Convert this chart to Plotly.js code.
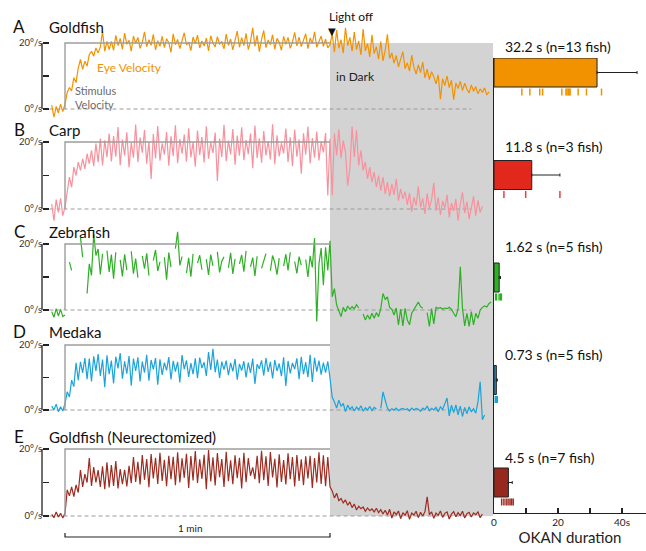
<!DOCTYPE html>
<html><head><meta charset="utf-8">
<script src="https://cdn.plot.ly/plotly-3.0.1.min.js"></script>
<style>html,body{margin:0;padding:0;background:#fff}#chart{width:646px;height:551px}</style>
</head><body><div id="chart"></div>
<script>
// ---------------- DATA ----------------
// eye velocity traces (deg/s), sampled every tStep seconds starting at tStart (stimulus onset = 0 s, light off = 60 s)
const tStart = -3, tStep = 0.5;

const goldfishEye = [
 1.2,-2.5,0.8,-1.2,1.5,-0.8,
 1.5,5,6.5,5.5,9.5,8,12.5,15,12,14.5,13,16.5,17.5,16,18.5,17,18.8,23.5,17.5,20.5,18,
 20.5,17.8,22.3,19.2,21.4,18.1,23.0,19.6,20.8,17.5,
 22.1,19.9,21.7,18.4,20.2,23.4,18.9,21.0,19.3,22.6,
 17.9,20.7,19.0,22.0,18.6,21.3,20.1,17.2,22.8,19.5,
 21.1,18.3,20.9,23.1,19.4,20.3,17.7,21.8,19.8,22.4,
 18.5,20.6,19.1,21.5,17.6,22.2,20.0,18.8,21.9,19.7,
 20.4,18.2,22.7,19.3,21.2,17.9,20.8,23.6,18.7,21.6,
 19.2,22.9,18.0,20.5,24.6,19.0,22.3,17.4,21.0,23.8,
 18.6,20.9,19.5,22.5,18.1,21.4,20.2,17.8,22.0,19.6,
 21.7,18.4,20.3,23.2,19.1,21.8,18.9,20.6,22.8,18.3,
 21.5,19.8,23.4,18.7,20.4,22.1,19.0,21.2,18.5,
 19.5,22.8,17.2,23.9,18.4,21.0,16.9,24.6,19.2,21.7,
 17.5,23.3,18.0,20.6,16.4,24.2,17.6,19.8,15.8,22.5,
 16.8,18.9,15.1,20.4,14.6,17.8,22.6,15.3,17.0,13.9,
 16.2,12.8,14.9,17.4,12.2,14.0,11.5,16.3,12.7,10.6,
 13.4,11.0,14.2,9.4,12.1,8.9,11.3,9.8,7.6,10.4,
 3.0,9.2,7.1,10.0,6.5,8.7,2.8,7.9,6.2,8.4,
 5.6,7.8,6.0,4.9,7.3,5.4,6.8,4.6,6.1,5.0,
 6.4,4.3,5.2
];

const carpEye = [
 1.5,-3.5,2.8,-1.0,3.2,-2.0,
 0.5,4.5,9.5,6.5,12.5,10.0,14.0,11.5,15.0,12.0,16.5,13.5,17.5,12.8,19.5,14.0,21.0,13.0,20.5,15.5,22.5,
 14.2,21.8,15.6,24.5,13.1,20.7,16.0,22.9,12.4,19.8,
 15.3,25.2,14.0,21.3,16.8,23.6,13.5,20.2,9.0,22.4,
 15.1,24.8,14.4,19.6,16.2,23.0,12.9,21.7,15.8,25.0,
 13.7,20.9,16.5,22.2,14.1,24.1,15.4,20.0,12.6,23.4,
 16.1,21.5,13.9,24.7,15.0,19.9,16.7,22.8,8.4,21.0,
 15.5,25.1,14.3,20.4,16.3,23.9,13.2,21.9,15.9,24.4,
 14.6,20.6,16.4,22.5,12.2,24.9,15.2,21.1,13.8,23.3,
 16.0,20.3,14.8,25.3,13.4,22.0,15.7,19.7,16.6,24.0,
 14.0,21.4,12.8,23.7,15.6,20.8,10.5,22.6,16.2,24.6,
 13.6,21.2,15.3,23.1,14.5,20.1,16.9,22.7,4.0,
 21.0,4.0,22.5,16.0,23.8,15.2,20.4,17.0,7.0,12.0,
 24.6,15.5,23.5,13.0,17.5,11.5,14.0,9.0,12.5,8.0,
 11.0,6.5,10.0,5.5,9.5,4.5,8.0,3.8,7.5,4.2,
 9.0,2.5,6.0,3.0,5.2,1.2,4.8,-0.8,3.5,1.0,
 6.8,0.5,3.2,-1.5,4.6,0.2,2.8,7.8,-0.5,3.5,
 -1.8,2.4,0.3,4.2,-2.5,1.8,-0.6,3.0,-3.5,1.5,
 5.0,-1.2,2.2,-3.0,1.0,3.8,-2.0,2.6,-1.0,0.8
];

const zebrafishEye = [
 -0.5,-2.2,0.4,-1.8,0.2,-2.0,
 -1.5,null,14.5,12.0,null,7.5,null,22.0,16.0,null,5.0,14.0,10.5,23.0,16.5,18.5,10.8,17.0,null,18.0,11.5,
 16.8,9.5,17.5,null,15.2,10.2,16.9,12.1,null,17.8,
 11.0,15.6,9.8,null,16.4,12.5,17.2,10.4,null,15.0,
 18.2,11.8,14.6,null,16.0,9.2,17.4,13.0,null,18.6,
 23.7,13.5,16.2,null,11.2,15.8,10.1,17.0,null,14.2,
 16.6,12.2,null,15.4,10.6,16.8,13.4,null,17.6,11.4,
 14.8,16.1,null,12.8,17.3,10.9,15.5,null,14.0,16.7,
 11.6,17.9,null,13.1,15.9,10.3,16.3,null,12.6,15.2,
 17.1,null,11.9,16.5,14.4,10.7,15.7,null,13.3,16.9,
 12.0,17.5,null,14.7,11.1,16.2,13.6,null,15.3,10.0,
 16.4,12.9,21.8,-3.5,14.0,18.8,7.5,19.0,12.0,
 21.0,4.0,6.5,1.5,0.0,-2.0,0.8,-0.5,1.2,0.2,
 1.0,0.4,1.6,0.6,null,-1.2,-3.0,-1.5,-2.8,-1.0,
 -2.5,-0.8,-2.0,0.5,5.0,3.2,4.0,0.8,0.2,-1.5,
 0.6,-4.5,0.3,-4.8,0.5,-3.0,-4.5,-1.0,0.2,1.5,
 2.4,1.0,0.5,null,-0.8,-5.0,0.4,-4.2,0.8,0.5,
 0.7,0.3,0.6,0.4,0.8,0.2,-1.0,-2.0,0.3,13.1,
 0.5,-4.8,-1.0,-5.0,-0.5,-4.5,-1.0,-2.5,0.0,0.8,
 1.2,0.9,2.0,2.4
];

const medakaEye = [
 1.2,0.0,1.8,-0.5,1.0,-0.3,
 2.0,5.6,4.0,9.2,7.2,14.5,9.2,14.8,11.4,16.0,9.5,15.8,8.8,16.5,12.0,17.2,10.5,15.5,7.0,16.8,11.0,
 15.2,8.2,16.4,12.8,17.5,9.6,15.0,11.2,16.6,7.5,
 15.8,12.0,16.2,8.8,14.9,11.5,17.0,9.0,15.4,12.5,
 16.0,7.8,15.6,10.8,14.6,12.2,16.3,9.4,15.1,11.8,
 14.8,8.5,16.9,12.6,15.3,10.2,14.4,11.0,15.9,9.8,
 16.1,12.9,14.7,10.5,17.8,12.3,18.8,11.6,15.5,9.9,
 14.9,12.4,15.2,10.7,14.5,11.9,15.7,9.3,14.2,12.1,
 15.0,10.0,14.6,11.4,15.8,8.0,14.1,12.7,15.3,10.6,
 16.0,11.7,14.8,9.7,15.4,12.0,14.3,10.4,16.2,7.4,
 15.1,11.3,14.5,12.6,15.9,9.5,16.4,11.0,14.7,10.1,
 17.0,8.6,16.1,11.8,15.2,10.9,14.6,11.5,15.0,
 9.8,4.0,2.5,0.6,3.0,1.2,2.0,-0.5,1.5,0.2,
 1.0,-0.3,0.9,0.1,1.3,-0.4,0.7,0.0,1.1,-0.2,
 0.8,0.3,null,0.5,5.6,3.0,0.6,-0.3,0.4,0.0,
 0.6,-0.2,0.3,0.5,0.1,0.4,-0.3,0.6,0.0,0.5,
 0.2,-0.4,0.6,0.1,1.2,-0.2,0.5,0.0,0.8,-0.5,
 1.0,0.2,2.2,3.7,-1.8,1.5,-0.8,1.6,-1.5,1.2,
 -2.0,0.8,-1.2,1.0,-0.6,0.4,-1.0,2.5,8.7,-3.0,
 -1.5
];

const neurectEye = [
 0.5,-0.5,1.2,-0.3,0.8,-0.6,
 0.8,7.8,6.0,8.7,5.8,9.3,7.0,13.7,8.7,12.5,10.0,17.3,9.0,14.6,10.0,13.7,8.7,14.8,8.0,16.0,8.5,
 15.2,9.0,16.4,8.2,14.0,9.5,13.8,8.8,15.0,9.8,
 17.6,10.2,16.2,9.4,18.2,10.8,17.0,8.6,18.5,11.2,
 17.4,9.6,18.9,10.5,16.8,8.9,18.0,11.0,17.7,9.2,
 19.0,10.0,17.2,11.4,18.6,8.4,17.9,10.6,19.4,9.9,
 16.9,11.1,18.3,8.0,19.7,10.3,17.5,9.1,18.8,11.6,
 17.0,8.7,19.2,10.4,16.6,9.5,18.1,11.3,17.4,8.2,
 18.9,10.1,17.3,12.0,14.5,11.0,18.0,9.8,19.5,10.7,
 17.8,9.0,19.1,11.5,17.1,8.5,18.4,10.2,16.7,9.4,
 18.7,11.0,17.6,8.8,18.2,10.5,16.9,9.2,17.8,11.2,
 18.0,8.4,17.3,10.0,19.0,9.6,18.1,8.9,17.6,
 8.7,7.5,5.4,6.8,4.6,5.2,3.9,4.8,3.2,4.2,
 2.5,3.6,1.8,2.9,2.2,2.7,1.4,2.4,1.6,2.1,
 1.2,2.3,1.0,1.9,0.6,1.7,0.3,2.0,-0.6,1.2,
 0.4,1.5,-0.8,1.0,0.2,1.6,-1.0,0.9,0.3,1.4,
 -0.5,1.1,0.0,1.3,5.7,0.4,1.2,-0.7,0.9,0.2,
 1.5,-0.4,0.8,1.2,-0.9,0.6,1.3,-0.2,1.0,0.1,
 1.4,-0.6,0.7,1.1,-0.3,0.9,0.4,1.2,-0.5,0.6
];

// stimulus velocity and zero reference
const stimTime = [0, 0, 60];
const stimVel  = [0, 20, 20];
const zeroTime = [-3.5, 92];
const zeroVel  = [0, 0];
const lightOffTime = 60;

// OKAN duration summary
const species   = ['Goldfish', 'Carp', 'Zebrafish', 'Medaka', 'Goldfish (Neurectomized)'];
const panelTags = ['A', 'B', 'C', 'D', 'E'];
const okanMean  = [32.2, 11.8, 1.62, 0.73, 4.5];
const okanErr   = [12.5, 8.8, 0.4, 0.3, 1.2];
const fishN     = [13, 3, 5, 5, 7];
const fishGoldfish = [8.7, 11.2, 14.3, 15.2, 21.2, 22.5, 22.8, 23.2, 23.5, 23.8, 26.3, 28.9, 33.6];
const fishCarp     = [3.1, 9.9, 20.6];
const fishZebra    = [0.5, 0.8, 1.6, 2.1, 2.3];
const fishMedaka   = [0.4, 0.6, 0.7, 0.9, 1.0];
const fishNeurect  = [2.4, 3.1, 3.8, 4.4, 5.0, 5.5, 6.0];
const okanTicks = [0, 10, 20, 30, 40];
const okanTickText = ['0', '', '20', '', '40s'];

// ---------------- LAYOUT / STYLE ----------------
const W = 646, H = 551;
const FONT = 'Lato, "Liberation Sans", Arial, sans-serif';
const tx = p => (p - 65) * 60 / 265;     // pixel -> seconds on time axis
const py = p => 1 - p / H;               // pixel -> paper y
const panels = [{p0:109,p20:43},{p0:209,p20:142},{p0:310,p20:244},{p0:410,p20:345},{p0:516,p20:449}];
const eyeSeries = [goldfishEye, carpEye, zebrafishEye, medakaEye, neurectEye];
const eyeColors = ['#F39200', '#F9919C', '#2DB024', '#1BA3DB', '#9E2B20'];
const barColors = ['#F39200', '#E0281C', '#2DB024', '#1B8FC8', '#96281E'];
const fishColors = ['#F39200', '#E8403A', '#2DB024', '#1BA3DB', '#A0281E'];
const fishSets = [fishGoldfish, fishCarp, fishZebra, fishMedaka, fishNeurect];

const traces = [];
const layout = {
  width: W, height: H, margin: {l:0, r:0, t:0, b:0},
  paper_bgcolor: '#fff', plot_bgcolor: 'rgba(0,0,0,0)',
  showlegend: false, font: {family: FONT, color: '#222'},
  xaxis: {domain:[0,1], range:[tx(0), tx(W)], visible:false, fixedrange:true},
  shapes: [], annotations: []
};

panels.forEach((pn, k) => {
  const axName = k === 0 ? 'yaxis' : 'yaxis' + (k + 1);
  const ref = k === 0 ? 'y' : 'y' + (k + 1);
  const u = 20 / (pn.p0 - pn.p20);
  const ax = {
    domain:[0,1], range:[-(H - pn.p0) * u, 20 + pn.p20 * u],
    anchor:'free', position: 42 / W,
    showgrid:false, zeroline:false, showline:false,
    ticks:'inside', ticklen:6, tickwidth:1.2, tickcolor:'#222',
    tickvals:[0,10,20], ticktext:['0°/s','','20°/s'],
    tickfont:{size:9.5, color:'#333', family:FONT}, fixedrange:true
  };
  if (k > 0) ax.overlaying = 'y';
  layout[axName] = ax;

  traces.push({x:zeroTime, y:zeroVel, xaxis:'x', yaxis:ref, mode:'lines',
    line:{color:'#9a9a9a', width:1, dash:'4px,3px'}, hoverinfo:'skip'});
  traces.push({y:eyeSeries[k], x0:tStart, dx:tStep, xaxis:'x', yaxis:ref, mode:'lines',
    line:{color:eyeColors[k], width:1.2}, connectgaps:false, hoverinfo:'skip'});
  traces.push({x:stimTime, y:stimVel, xaxis:'x', yaxis:ref, mode:'lines',
    line:{color:'#9d9d9d', width:1.4}, hoverinfo:'skip'});

  // y bracket line
  layout.shapes.push({type:'line', xref:'paper', yref:ref, x0:42/W, x1:42/W, y0:0, y1:20,
    line:{color:'#222', width:1.3}});
});

// dark period shading
layout.shapes.push({type:'rect', xref:'x', yref:'paper', x0:lightOffTime, x1:tx(493),
  y0:py(516), y1:py(43), fillcolor:'#D3D3D3', line:{width:0}, layer:'below'});
// 1-minute scale bar
layout.shapes.push({type:'path', xref:'x', yref:'paper',
  path:`M 0 ${py(533)} L 0 ${py(537)} L 60 ${py(537)} L 60 ${py(533)}`,
  line:{color:'#222', width:1.2}});

// OKAN bar chart
const catTop = -0.1415, catBot = 4.2976;
layout.xaxis2 = {domain:[494/W, 1], range:[0, (W-494)/3.2], anchor:'y6',
  showgrid:false, zeroline:false, showline:true, linecolor:'#222', linewidth:1.2,
  ticks:'inside', ticklen:5, tickwidth:1.2, tickcolor:'#222',
  tickvals:okanTicks, ticktext:okanTickText, tickfont:{size:10, family:FONT, color:'#222'},
  title:{text:'OKAN duration', font:{size:15, family:FONT, color:'#222'}, standoff:2}, fixedrange:true};
layout.yaxis6 = {domain:[py(513), py(58)], anchor:'x2', type:'category', categoryarray:species,
  range:[catBot, catTop], showline:true, linecolor:'#222', linewidth:1.2, ticks:'',
  showticklabels:false, showgrid:false, zeroline:false, fixedrange:true};
layout.yaxis7 = {overlaying:'y6', anchor:'x2', type:'category', categoryarray:species,
  range:[catBot - 0.19, catTop - 0.19], visible:false, fixedrange:true};

traces.push({type:'bar', orientation:'h', x:okanMean, y:species, xaxis:'x2', yaxis:'y6',
  width:0.283, marker:{color:barColors, line:{color:'#222', width:1}},
  error_x:{type:'data', array:okanErr, arrayminus:okanErr.map(()=>0), symmetric:false,
    color:'#222', thickness:1, width:1.5}, hoverinfo:'skip'});
fishSets.forEach((vals, k) => {
  traces.push({type:'scatter', mode:'markers', x:vals, y:vals.map(()=>species[k]),
    xaxis:'x2', yaxis:'y7', marker:{symbol:'line-ns', size:5, line:{width:1.5, color:fishColors[k]}},
    hoverinfo:'skip'});
});

// annotations
const A = layout.annotations;
const titleY = [26, 129, 231, 331, 436];
panelTags.forEach((tag, k) => {
  A.push({text:tag, xref:'paper', yref:'paper', x:19/W, y:py(titleY[k]), xanchor:'center', yanchor:'middle',
    showarrow:false, font:{size:17, family:FONT, color:'#111'}});
  A.push({text:species[k], xref:'paper', yref:'paper', x:47/W, y:py(titleY[k] + 1), xanchor:'left', yanchor:'middle',
    showarrow:false, font:{size:15, family:FONT, color:'#111'}});
});
const barLabelY = [46.5, 146, 246.5, 354, 457];
okanMean.forEach((m, k) => {
  A.push({text:`${m} s (n=${fishN[k]} fish)`, xref:'paper', yref:'paper', x:503/W, y:py(barLabelY[k]),
    xanchor:'left', yanchor:'middle', showarrow:false, font:{size:14, family:FONT, color:'#111'}});
});
A.push({text:'Eye Velocity', xref:'paper', yref:'paper', x:95/W, y:py(68), xanchor:'left', yanchor:'middle',
  showarrow:false, font:{size:12, family:FONT, color:'#F39200'}});
A.push({text:'Stimulus<br>Velocity', xref:'paper', yref:'paper', x:73/W, y:py(97), xanchor:'left', yanchor:'middle',
  align:'left', showarrow:false, font:{size:11, family:FONT, color:'#6a6a6a'}});
A.push({text:'in Dark', xref:'paper', yref:'paper', x:334/W, y:py(77), xanchor:'left', yanchor:'middle',
  showarrow:false, font:{size:12, family:FONT, color:'#222'}});
A.push({text:'Light off', xref:'paper', yref:'paper', x:327/W, y:py(16), xanchor:'left', yanchor:'middle',
  showarrow:false, font:{size:12, family:FONT, color:'#111'}});
A.push({text:'▼', xref:'paper', yref:'paper', x:331.5/W, y:py(32), xanchor:'center', yanchor:'middle',
  showarrow:false, font:{size:10, family:'DejaVu Sans', color:'#111'}});
A.push({text:'1 min', xref:'paper', yref:'paper', x:190/W, y:py(528), xanchor:'center', yanchor:'middle',
  showarrow:false, font:{size:10, family:FONT, color:'#222'}});

Plotly.newPlot('chart', traces, layout, {staticPlot:true, displayModeBar:false});
</script>
</body></html>
